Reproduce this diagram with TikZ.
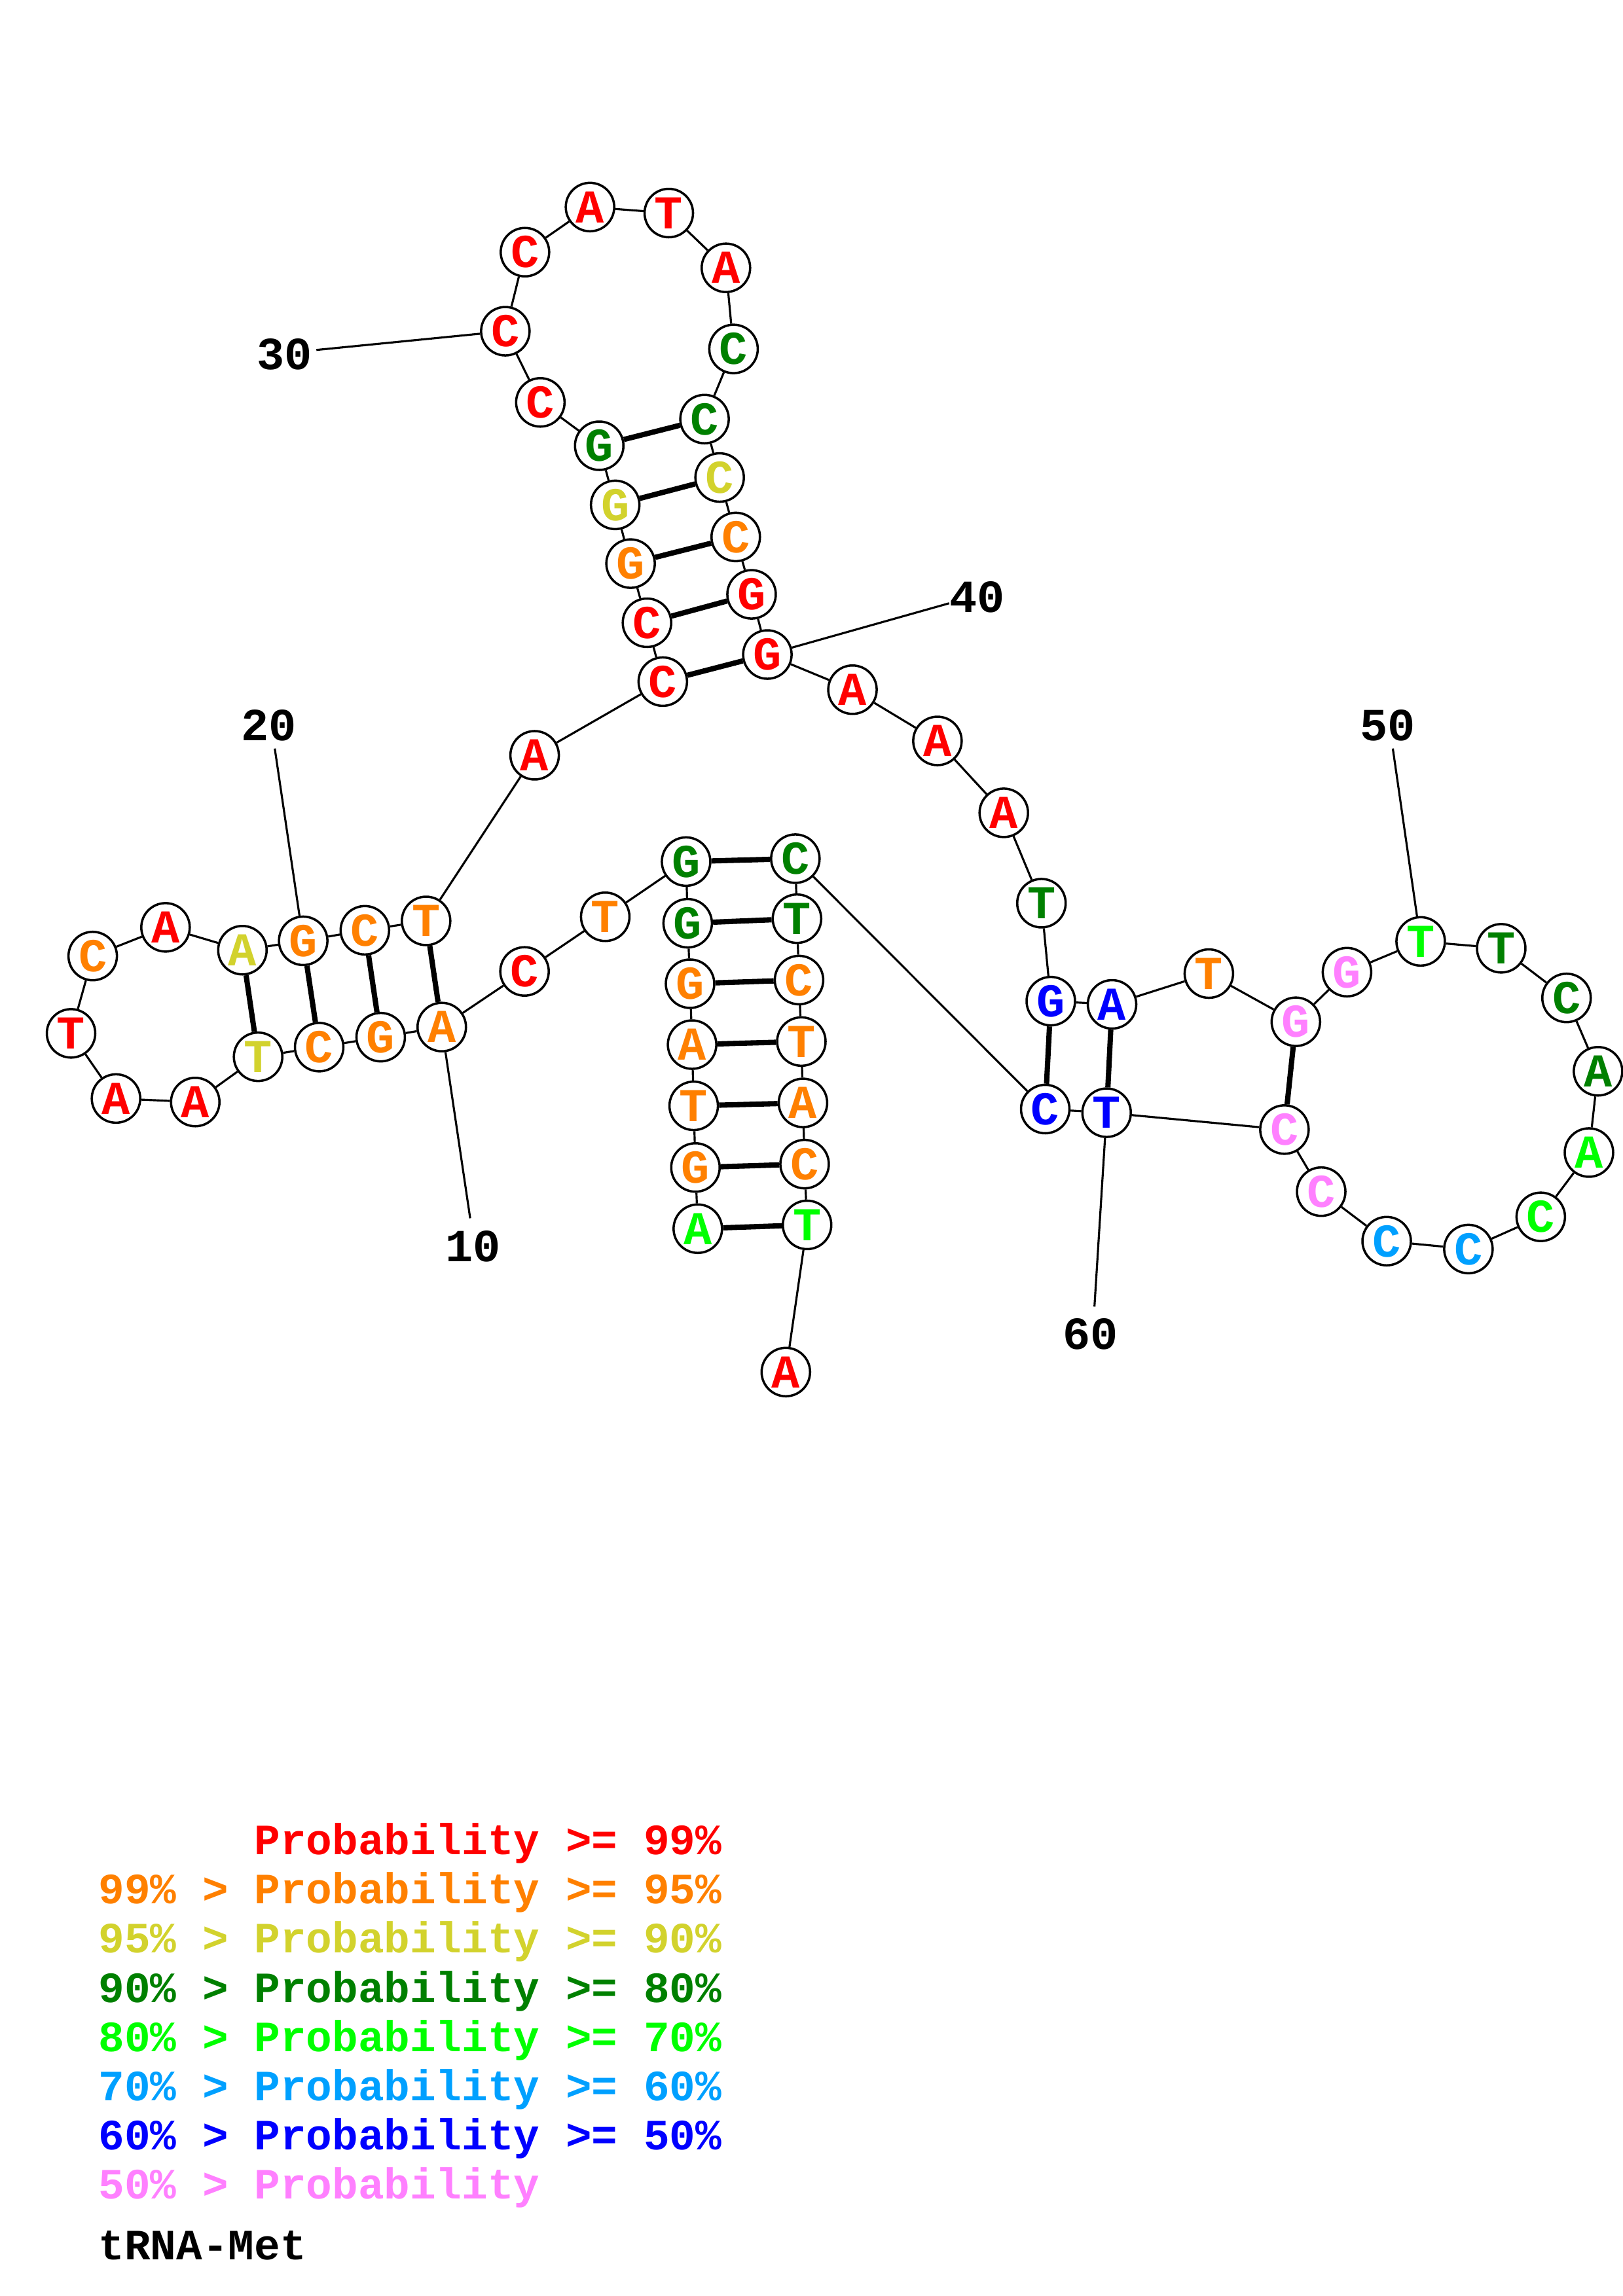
\documentclass[tikz,border=0pt]{standalone}
\usepackage{fontspec}
\setmonofont{Liberation Mono}
\definecolor{cr}{RGB}{255,0,0}
\definecolor{co}{RGB}{255,128,0}
\definecolor{cy}{RGB}{210,210,45}
\definecolor{cd}{RGB}{0,128,0}
\definecolor{cg}{RGB}{0,255,0}
\definecolor{cs}{RGB}{0,160,255}
\definecolor{cb}{RGB}{0,0,255}
\definecolor{cp}{RGB}{255,128,255}
\begin{document}
\begin{tikzpicture}[x=0.22374mm,y=-0.22374mm,
  base/.style={circle,draw=black,line width=1.0pt,fill=white,minimum size=7.4mm,inner sep=0pt,font=\fontsize{20.5}{20.5}\ttfamily\bfseries},
  bb/.style={line width=0.9pt},
  bp/.style={line width=2.3pt},
  num/.style={font=\fontsize{20}{20}\ttfamily\bfseries,inner sep=0pt},
  leg/.style={font=\fontsize{18.8}{18.8}\ttfamily\bfseries,inner sep=0pt,anchor=base west}]
\useasboundingbox (0,0) rectangle (1108,1568);
\foreach \i/\x/\y/\cl/\bs in {
 1/476.4/839.1/cg/A, 2/474.8/797.3/co/G, 3/473.6/755.2/co/T, 4/472.5/713.4/co/A,
 5/471.1/671.8/co/G, 6/469.5/630.5/cd/G, 7/468.4/588.4/cd/G, 8/413.2/626.1/co/T,
 9/358.1/663.4/cr/C, 10/301.6/701.4/co/A, 11/259.9/708.3/co/G, 12/217.9/715.1/co/C,
 13/176.2/721.7/cy/T, 14/133.3/752.6/cr/A, 15/79.2/750.2/cr/A, 16/48.5/705.7/cr/T,
 17/63.3/652.9/co/C, 18/113.0/633.3/cr/A, 19/165.5/648.9/cy/A, 20/207.0/642.5/co/G,
 21/249.1/635.3/co/C, 22/290.9/628.9/co/T, 23/365.0/515.8/cr/A, 24/452.5/465.5/cr/C,
 25/441.7/425.3/cr/C, 26/430.5/384.9/co/G, 27/420.0/344.8/cy/G, 28/409.1/304.4/cd/G,
 29/368.9/274.8/cr/C, 30/345.0/226.2/cr/C, 31/358.4/172.2/cr/C, 32/402.8/141.4/cr/A,
 33/456.6/145.5/cr/T, 34/495.6/182.9/cr/A, 35/500.8/238.3/cd/C, 36/481.0/286.2/cd/C,
 37/491.3/326.1/cy/C, 38/502.3/366.7/co/C, 39/513.1/405.9/cr/G, 40/523.9/447.0/cr/G,
 41/582.0/471.0/cr/A, 42/640.0/506.0/cr/A, 43/685.3/555.1/cr/A, 44/711.0/616.8/cd/T,
 45/717.4/683.7/cb/G, 46/759.2/685.9/cb/A, 47/825.3/664.9/co/T, 48/884.7/697.8/cp/G,
 49/919.6/663.9/cp/G, 50/969.9/642.9/cg/T, 51/1024.9/647.6/cd/T, 52/1069.5/681.5/cd/C,
 53/1091.0/731.6/cd/A, 54/1084.8/787.1/cg/A, 55/1051.9/831.0/cg/C, 56/1002.5/853.0/cs/C,
 57/946.7/847.6/cs/C, 58/902.0/813.8/cp/C, 59/876.9/771.4/cp/C, 60/755.5/759.9/cb/T,
 61/713.6/757.4/cb/C, 62/543.0/586.4/cd/C, 63/544.1/627.4/cd/T, 64/545.5/669.3/co/C,
 65/547.1/711.3/co/T, 66/548.2/753.2/co/A, 67/549.3/795.0/co/C, 68/551.0/836.5/cg/T,
 69/536.5/937.0/cr/A}
 \node[base,text=\cl] (n\i) at (\x,\y) {\bs};
\foreach \i in {1,...,68}{\pgfmathtruncatemacro\j{\i+1}\draw[bb] (n\i) -- (n\j);}
\foreach \a/\z in {1/68,2/67,3/66,4/65,5/64,6/63,7/62,10/22,11/21,12/20,13/19,
 24/40,25/39,26/38,27/37,28/36,45/61,46/60,48/59}
 \draw[bp] (n\a) -- (n\z);
% position labels
\coordinate (l10) at (321,832);
\coordinate (l20) at (187.6,511.2);
\coordinate (l30) at (216,239);
\coordinate (l40) at (648,412);
\coordinate (l50) at (950.9,511.2);
\coordinate (l60) at (747.2,892.3);
\foreach \k in {10,20,30,40,50,60} \draw[bb] (n\k) -- (l\k);
\node[num] (t10) at (323,851) {10};
\node[num] (t20) at (183.7,495.6) {20};
\node[num] (t30) at (194.4,242.2) {30};
\node[num] (t40) at (667,408) {40};
\node[num] (t50) at (947.5,495.5) {50};
\node[num] (t60) at (744.3,911) {60};
% legend
\node[leg,text=cr] (g1) at (67,1266.5) {\phantom{99\% > }Probability >= 99\%};
\node[leg,text=co] (g2) at (67,1300.1) {99\% > Probability >= 95\%};
\node[leg,text=cy] (g3) at (67,1333.7) {95\% > Probability >= 90\%};
\node[leg,text=cd] (g4) at (67,1367.3) {90\% > Probability >= 80\%};
\node[leg,text=cg] (g5) at (67,1400.9) {80\% > Probability >= 70\%};
\node[leg,text=cs] (g6) at (67,1434.5) {70\% > Probability >= 60\%};
\node[leg,text=cb] (g7) at (67,1468.1) {60\% > Probability >= 50\%};
\node[leg,text=cp] (g8) at (67,1501.7) {50\% > Probability};
\node[leg,text=black] (g9) at (67,1543) {tRNA-Met};
\end{tikzpicture}
\end{document}
